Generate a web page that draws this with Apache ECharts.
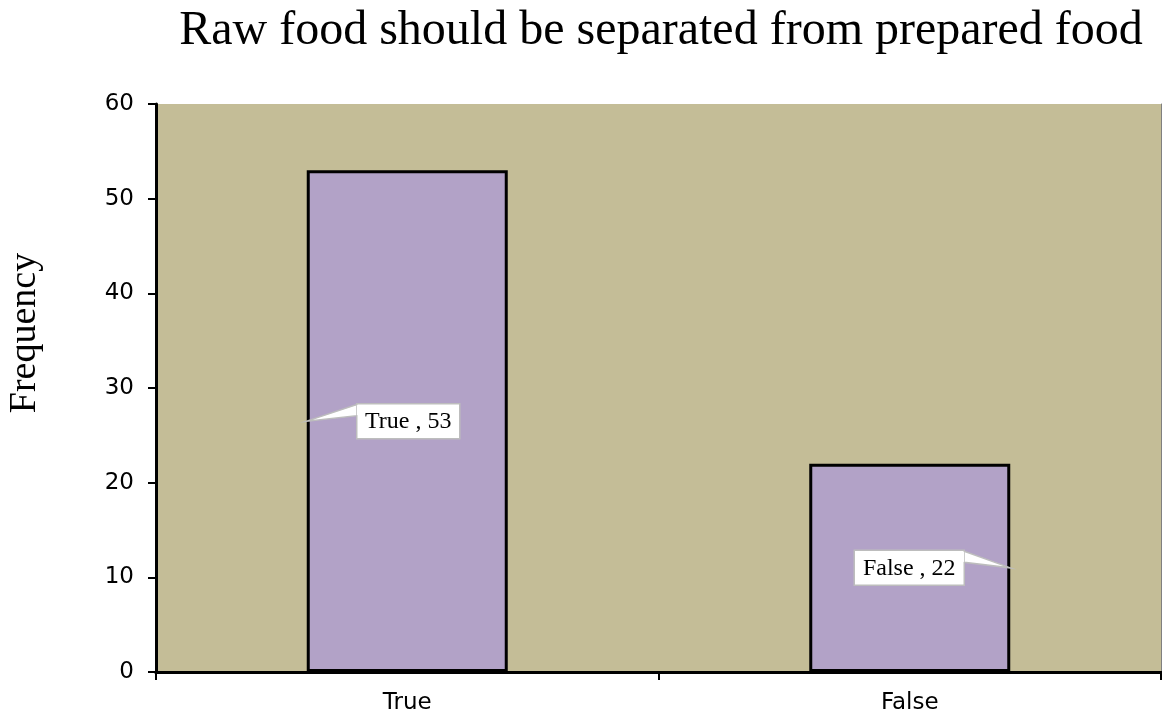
<!DOCTYPE html>
<html>
<head>
<meta charset="utf-8">
<script src="https://cdn.jsdelivr.net/npm/echarts@6/dist/echarts.min.js"></script>
<style>html,body{margin:0;padding:0;background:#fff}#c{width:1162px;height:719px}</style>
</head>
<body>
<div id="c"></div>
<script>
const categories = ['True', 'False'];
const frequencies = [53, 22];
const yTicks = { min: 0, max: 60, interval: 10 };
const titleText = 'Raw food should be separated from prepared food';
const yName = 'Frequency';

const chart = echarts.init(document.getElementById('c'), null, { renderer: 'canvas' });

const calloutData = frequencies.map((v, i) => [i, v]);
const tickFont = '"DejaVu Sans", Verdana, sans-serif';

function renderCallout(params, api) {
  const i = api.value(0);
  const v = api.value(1);
  const mid = api.coord([i, v / 2]);
  const bw = api.size([1, 0])[0] * 0.4;
  const leftSide = i === 0;
  const tipX = leftSide ? mid[0] - bw / 2 : mid[0] + bw / 2;
  const tipY = mid[1];
  const text = categories[i] + ' , ' + v;
  const boxW = leftSide ? 103 : 110;
  const boxH = 35;
  const gap = leftSide ? 50 : 46;
  const boxX = leftSide ? tipX + gap : tipX - gap - boxW;
  const boxY = tipY - boxH / 2;
  const edgeX = leftSide ? boxX : boxX + boxW;
  return {
    type: 'group',
    children: [
      {
        type: 'polygon',
        shape: { points: [[tipX, tipY], [edgeX, boxY + 1], [edgeX, boxY + 12]] },
        style: { fill: '#ffffff', stroke: '#bdbdbd', lineWidth: 1.5 }
      },
      {
        type: 'rect',
        shape: { x: boxX, y: boxY, width: boxW, height: boxH },
        style: { fill: '#ffffff', stroke: '#bdbdbd', lineWidth: 1.5 }
      },
      {
        type: 'rect',
        shape: { x: edgeX - (leftSide ? -1 : 1) - 1, y: boxY + 1.5, width: 2, height: 10 },
        style: { fill: '#ffffff' }
      },
      {
        type: 'text',
        style: {
          x: boxX + boxW / 2, y: tipY + 1,
          text: text, fill: '#000', font: '24px "Liberation Serif", serif',
          align: 'center', verticalAlign: 'middle'
        }
      }
    ]
  };
}

chart.setOption({
  animation: false,
  backgroundColor: '#ffffff',
  title: {
    text: titleText,
    left: 656, top: 2, textAlign: 'center',
    textStyle: { fontFamily: '"Liberation Serif", serif', fontSize: 48, fontWeight: 'normal', color: '#000' }
  },
  grid: {
    left: 156, right: 1, top: 104, bottom: 47,
    outerBoundsMode: 'none', containLabel: false,
    show: true, backgroundColor: '#c4bd97', borderWidth: 0
  },
  xAxis: [{
    type: 'category', data: categories, position: 'bottom',
    axisLine: { lineStyle: { color: '#000', width: 3 } },
    axisTick: { show: true, length: 8, lineStyle: { color: '#000', width: 2 } },
    axisLabel: { color: '#000', fontFamily: tickFont, fontSize: 23, margin: 20 },
    splitLine: { show: false }
  }, {
    type: 'category', data: categories, position: 'top',
    axisLine: { lineStyle: { color: '#000', width: 3 } },
    axisTick: { show: false }, axisLabel: { show: false }
  }],
  yAxis: [{
    type: 'value', min: yTicks.min, max: yTicks.max, interval: yTicks.interval,
    name: yName, nameLocation: 'middle', nameGap: 112, nameRotate: 90,
    nameTextStyle: { fontFamily: '"Liberation Serif", serif', fontSize: 38, color: '#000', padding: [0, 0, 0, 110] },
    axisLine: { show: true, lineStyle: { color: '#000', width: 3 } },
    axisTick: { show: true, length: 8, lineStyle: { color: '#000', width: 2 } },
    axisLabel: { color: '#000', fontFamily: tickFont, fontSize: 23, margin: 22 },
    splitLine: { show: false }
  }, {
    type: 'value', min: yTicks.min, max: yTicks.max, interval: yTicks.interval, position: 'right',
    axisLine: { show: true, lineStyle: { color: '#808080', width: 1 } },
    axisTick: { show: false }, axisLabel: { show: false }, splitLine: { show: false }
  }],
  series: [{
    type: 'bar', data: frequencies, barWidth: '40%',
    itemStyle: { color: '#b2a2c7', borderColor: '#000', borderWidth: 3 },
    z: 2
  }, {
    type: 'custom', data: calloutData, renderItem: renderCallout, z: 5,
    encode: { x: 0, y: 1 }
  }]
});
</script>
</body>
</html>
